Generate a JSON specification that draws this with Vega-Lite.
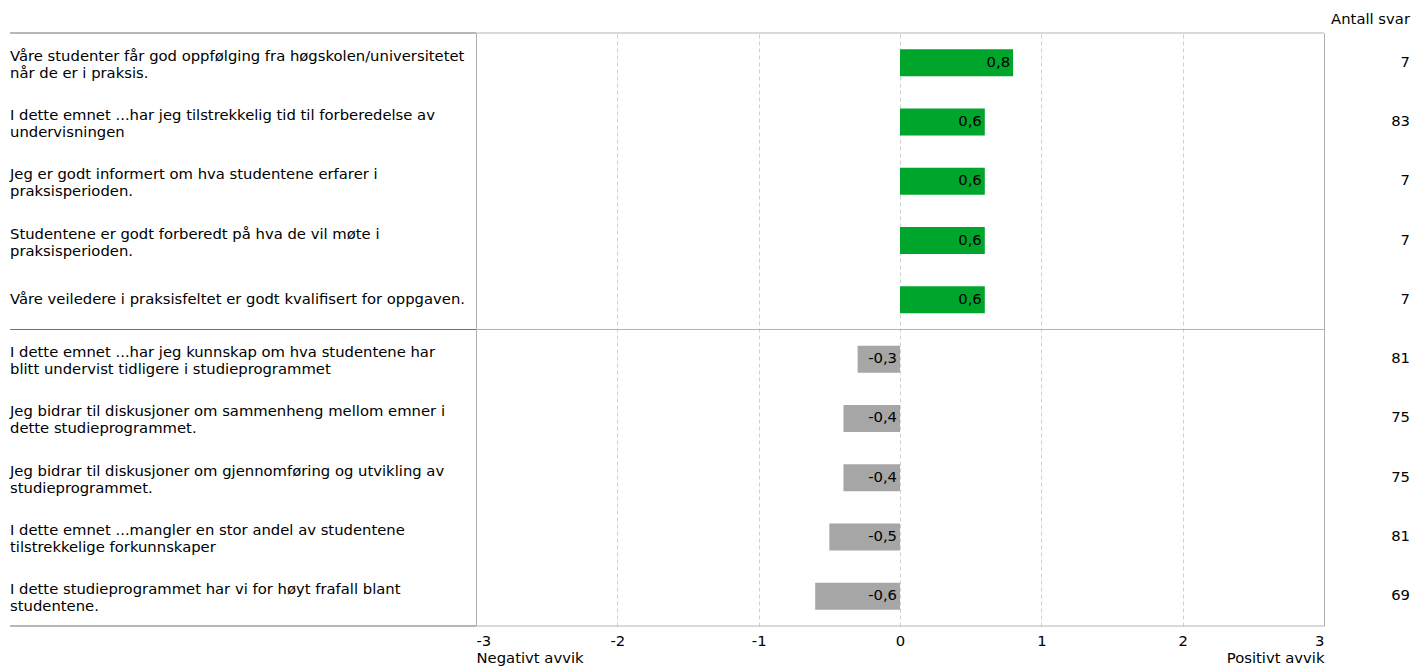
{
  "$schema": "https://vega.github.io/schema/vega-lite/v6.json",
  "width": 1400,
  "height": 593,
  "autosize": {"type": "none"},
  "padding": {"left": 10, "top": 33, "right": 4, "bottom": 42},
  "background": "white",
  "config": {
    "view": {"stroke": null},
    "font": "DejaVu Sans",
    "locale": {"number": {"decimal": ",", "thousands": " ", "grouping": [3], "currency": ["", " kr"], "minus": "-"}}
  },
  "title": {"text": "Antall svar", "anchor": "end", "fontSize": 14.8, "fontWeight": "normal", "color": "#000", "offset": 6, "font": "DejaVu Sans"},
  "data": {"values": [
    {"id": "q1", "q": "Våre studenter får god oppfølging fra høgskolen/universitetet\nnår de er i praksis.", "v": 0.8, "n": 7},
    {"id": "q2", "q": "I dette emnet ...har jeg tilstrekkelig tid til forberedelse av\nundervisningen", "v": 0.6, "n": 83},
    {"id": "q3", "q": "Jeg er godt informert om hva studentene erfarer i\npraksisperioden.", "v": 0.6, "n": 7},
    {"id": "q4", "q": "Studentene er godt forberedt på hva de vil møte i\npraksisperioden.", "v": 0.6, "n": 7},
    {"id": "q5", "q": "Våre veiledere i praksisfeltet er godt kvalifisert for oppgaven.", "v": 0.6, "n": 7},
    {"id": "q6", "q": "I dette emnet ...har jeg kunnskap om hva studentene har\nblitt undervist tidligere i studieprogrammet", "v": -0.3, "n": 81},
    {"id": "q7", "q": "Jeg bidrar til diskusjoner om sammenheng mellom emner i\ndette studieprogrammet.", "v": -0.4, "n": 75},
    {"id": "q8", "q": "Jeg bidrar til diskusjoner om gjennomføring og utvikling av\nstudieprogrammet.", "v": -0.4, "n": 75},
    {"id": "q9", "q": "I dette emnet ...mangler en stor andel av studentene\ntilstrekkelige forkunnskaper", "v": -0.5, "n": 81},
    {"id": "q10", "q": "I dette studieprogrammet har vi for høyt frafall blant\nstudentene.", "v": -0.6, "n": 69}
  ]},
  "encoding": {
    "y": {"field": "id", "type": "nominal", "sort": null, "axis": null, "scale": {"paddingInner": 0, "paddingOuter": 0}}
  },
  "layer": [
    {
      "mark": {"type": "bar", "height": {"band": 0.455}},
      "encoding": {
        "x": {
          "field": "v", "type": "quantitative",
          "scale": {"domain": [-6.2972, 3.6085], "nice": false, "zero": false},
          "axis": {
            "values": [-3, -2, -1, 0, 1, 2, 3],
            "title": null,
            "domain": false,
            "ticks": false,
            "grid": true,
            "gridColor": {"condition": {"test": "abs(datum.value) == 3", "value": "#b0b0b0"}, "value": "#cfcfcf"},
            "gridDash": {"condition": {"test": "abs(datum.value) == 3", "value": []}, "value": [4, 3]},
            "labelFontSize": 14.8,
            "labelColor": "#000",
            "labelFont": "DejaVu Sans",
            "labelPadding": 7,
            "labelLineHeight": 17,
            "labelOverlap": false,
            "labelAlign": {"condition": [{"test": "datum.value == -3", "value": "left"}, {"test": "datum.value == 3", "value": "right"}], "value": "center"},
            "labelExpr": "datum.value == -3 ? ['-3', 'Negativt avvik'] : datum.value == 3 ? ['3', 'Positivt avvik'] : ('' + datum.value)"
          }
        },
        "x2": {"datum": 0},
        "color": {"condition": {"test": "datum.v > 0", "value": "#00a52c"}, "value": "#a6a6a6"}
      }
    },
    {
      "transform": [{"filter": "datum.id == 'q1' || datum.id == 'q6'"}],
      "mark": {"type": "rule", "color": "#707070", "strokeWidth": 1},
      "encoding": {"y": {"field": "id", "type": "nominal", "sort": null, "bandPosition": 0}, "x": {"datum": -6.2972}, "x2": {"datum": -3}}
    },
    {
      "transform": [{"filter": "datum.id == 'q1' || datum.id == 'q6'"}],
      "mark": {"type": "rule", "color": "#b4b4b4", "strokeWidth": 1},
      "encoding": {"y": {"field": "id", "type": "nominal", "sort": null, "bandPosition": 0}, "x": {"datum": -3}, "x2": {"datum": 3}}
    },
    {
      "transform": [{"filter": "datum.id == 'q10'"}],
      "mark": {"type": "rule", "color": "#707070", "strokeWidth": 1},
      "encoding": {"y": {"field": "id", "type": "nominal", "sort": null, "bandPosition": 1}, "x": {"datum": -6.2972}, "x2": {"datum": -3}}
    },
    {
      "transform": [{"filter": "datum.id == 'q10'"}],
      "mark": {"type": "rule", "color": "#b4b4b4", "strokeWidth": 1},
      "encoding": {"y": {"field": "id", "type": "nominal", "sort": null, "bandPosition": 1}, "x": {"datum": -3}, "x2": {"datum": 3}}
    },
    {
      "transform": [{"filter": "datum.v > 0"}],
      "mark": {"type": "text", "align": "right", "baseline": "middle", "dx": -3, "fontSize": 14.8, "color": "#000"},
      "encoding": {"x": {"field": "v", "type": "quantitative"}, "text": {"field": "v", "type": "quantitative", "format": ".1f"}}
    },
    {
      "transform": [{"filter": "datum.v < 0"}],
      "mark": {"type": "text", "align": "right", "baseline": "middle", "dx": -3, "fontSize": 14.8, "color": "#000"},
      "encoding": {"x": {"datum": 0}, "text": {"field": "v", "type": "quantitative", "format": ".1f"}}
    },
    {
      "transform": [{"filter": "indexof(datum.q, '\\n') >= 0"}],
      "mark": {"type": "text", "align": "left", "baseline": "middle", "dy": -6, "fontSize": 14.8, "lineBreak": "\n", "lineHeight": 17, "color": "#000"},
      "encoding": {"x": {"datum": -6.2972}, "text": {"field": "q", "type": "nominal"}}
    },
    {
      "transform": [{"filter": "indexof(datum.q, '\\n') < 0"}],
      "mark": {"type": "text", "align": "left", "baseline": "middle", "dy": 0.5, "fontSize": 14.8, "color": "#000"},
      "encoding": {"x": {"datum": -6.2972}, "text": {"field": "q", "type": "nominal"}}
    },
    {
      "mark": {"type": "text", "align": "right", "baseline": "middle", "fontSize": 14.8, "color": "#000"},
      "encoding": {"x": {"datum": 3.6085}, "text": {"field": "n", "type": "quantitative"}}
    }
  ]
}
